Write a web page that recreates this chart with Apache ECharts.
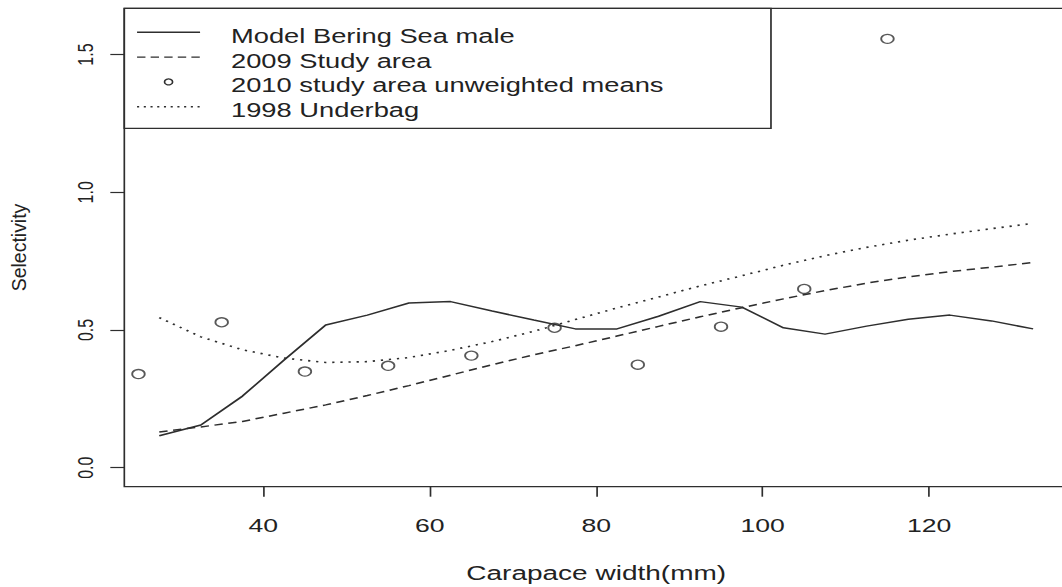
<!DOCTYPE html>
<html>
<head>
<meta charset="utf-8">
<script src="https://cdn.jsdelivr.net/npm/echarts@6/dist/echarts.min.js"></script>
<style>
  html, body { margin: 0; padding: 0; background: #fff; overflow: hidden; }
  /* the plot is drawn on a narrower canvas and widened, giving the wide lettering of the printed figure */
  #chart { width: 759px; height: 587px; transform: scaleX(1.4); transform-origin: 0 0; }
</style>
</head>
<body>
<div id="chart"></div>
<script>
// carapace width (mm) at which the curves are evaluated
const widths = [27.5, 32.5, 37.5, 42.5, 47.5, 52.5, 57.5, 62.5, 67.5, 72.5, 77.5,
                82.5, 87.5, 92.5, 97.5, 102.5, 107.5, 112.5, 117.5, 122.5, 127.5, 132.5];
const modelMale = [0.116, 0.155, 0.260, 0.391, 0.518, 0.554, 0.598, 0.603, 0.569, 0.536, 0.504,
                   0.504, 0.550, 0.603, 0.583, 0.508, 0.485, 0.514, 0.539, 0.554, 0.533, 0.504];
const study2009 = [0.130, 0.148, 0.168, 0.198, 0.228, 0.262, 0.298, 0.336, 0.374, 0.410, 0.443,
                   0.478, 0.513, 0.548, 0.581, 0.613, 0.643, 0.670, 0.693, 0.712, 0.728, 0.745];
const underbag1998 = [0.545, 0.475, 0.428, 0.398, 0.382, 0.385, 0.400, 0.426, 0.458, 0.495, 0.538,
                      0.580, 0.620, 0.660, 0.697, 0.735, 0.770, 0.800, 0.826, 0.848, 0.868, 0.887];
// 2010 unweighted means by 10 mm bin
const meansX = [25, 35, 45, 55, 65, 75, 85, 95, 105, 115];
const meansY = [0.340, 0.528, 0.349, 0.370, 0.407, 0.508, 0.374, 0.512, 0.649, 1.557];

const xTicks = [40, 60, 80, 100, 120];
const yTicks = [0, 0.5, 1.0, 1.5];
const seriesNames = ['Model Bering Sea male', '2009 Study area',
                     '2010 study area unweighted means', '1998 Underbag'];

const INK = '#2e2e2e';
const FONT = '"Liberation Sans", Arial, Helvetica, sans-serif';
const STRETCH = 1.4;

const pairs = (xs, ys) => xs.map((x, i) => [x, ys[i]]);

const chart = echarts.init(document.getElementById('chart'), null, { renderer: 'svg' });

// legend box in the top-left corner of the plot region
const legendRows = [32.3, 57.1, 81.9, 106.7];
const legendGraphics = [
  { type: 'rect', z: 100, shape: { x: 88.8, y: 8.3, width: 461.9, height: 120 },
    style: { fill: '#fff', stroke: INK, lineWidth: 1.2 } },
  { type: 'line', z: 101, shape: { x1: 97.9, y1: legendRows[0], x2: 142.9, y2: legendRows[0] },
    style: { stroke: INK, lineWidth: 1.4 } },
  { type: 'line', z: 101, shape: { x1: 97.9, y1: legendRows[1], x2: 142.9, y2: legendRows[1] },
    style: { stroke: INK, lineWidth: 1.4, lineDash: [6, 3.7] } },
  { type: 'circle', z: 101, shape: { cx: 120.4, cy: legendRows[2], r: 2.9 },
    style: { fill: 'none', stroke: INK, lineWidth: 1.2 } },
  { type: 'line', z: 101, shape: { x1: 97.9, y1: legendRows[3], x2: 142.9, y2: legendRows[3] },
    style: { stroke: INK, lineWidth: 1.4, lineDash: [1.5, 3.3] } }
].concat(seriesNames.map((name, i) => ({
  type: 'text', z: 101, x: 165, y: legendRows[i] + 4,
  style: { text: name, fontSize: 19.5, fontFamily: FONT, fill: '#222',
           align: 'left', verticalAlign: 'middle' }
})));

// y-axis title, kept at its natural proportions despite the horizontal widening
const yTitle = {
  type: 'text', x: 13.6, y: 247.5, rotation: Math.PI / 2, scaleY: 1 / STRETCH,
  style: { text: 'Selectivity', fontSize: 19.5, fontFamily: FONT, fill: '#222',
           align: 'center', verticalAlign: 'middle' }
};

chart.setOption({
  animation: false,
  backgroundColor: '#fff',
  grid: {
    left: 88.8, top: 8.3, width: 674.1, height: 478.4,
    show: true, borderColor: INK, borderWidth: 1.2, backgroundColor: 'transparent',
    outerBoundsMode: 'none', containLabel: false
  },
  xAxis: {
    type: 'value', min: 23.3, max: 136.7,
    name: 'Carapace width(mm)', nameLocation: 'middle', nameGap: 76,
    nameTextStyle: { fontSize: 20, fontFamily: FONT, color: '#222' },
    axisLine: { show: false, onZero: false },
    splitLine: { show: false },
    axisTick: { show: true, inside: false, length: 10, customValues: xTicks,
                lineStyle: { color: INK, width: 1.2 } },
    axisLabel: { customValues: xTicks, margin: 29, fontSize: 19, fontFamily: FONT, color: '#222' }
  },
  yAxis: {
    type: 'value', min: -0.069, max: 1.668,
    axisLine: { show: false, onZero: false },
    splitLine: { show: false },
    axisTick: { show: true, inside: false, length: 10, customValues: yTicks,
                lineStyle: { color: INK, width: 1.2 } },
    axisLabel: { customValues: yTicks, rotate: 90, margin: 20, fontSize: 16, fontFamily: FONT,
                 color: '#222', formatter: v => v.toFixed(1) }
  },
  series: [
    { name: seriesNames[0], type: 'line', data: pairs(widths, modelMale), symbol: 'none',
      lineStyle: { color: INK, width: 1.5, type: 'solid' } },
    { name: seriesNames[1], type: 'line', data: pairs(widths, study2009), symbol: 'none',
      lineStyle: { color: INK, width: 1.5, type: [6, 4] } },
    { name: seriesNames[2], type: 'scatter', data: pairs(meansX, meansY), symbol: 'circle',
      symbolSize: 9, itemStyle: { color: 'rgba(0,0,0,0)', borderColor: INK, borderWidth: 1.3 } },
    { name: seriesNames[3], type: 'line', data: pairs(widths, underbag1998), symbol: 'none',
      lineStyle: { color: INK, width: 1.6, type: [1.6, 4.2] } }
  ],
  graphic: legendGraphics.concat([yTitle])
});
</script>
</body>
</html>
